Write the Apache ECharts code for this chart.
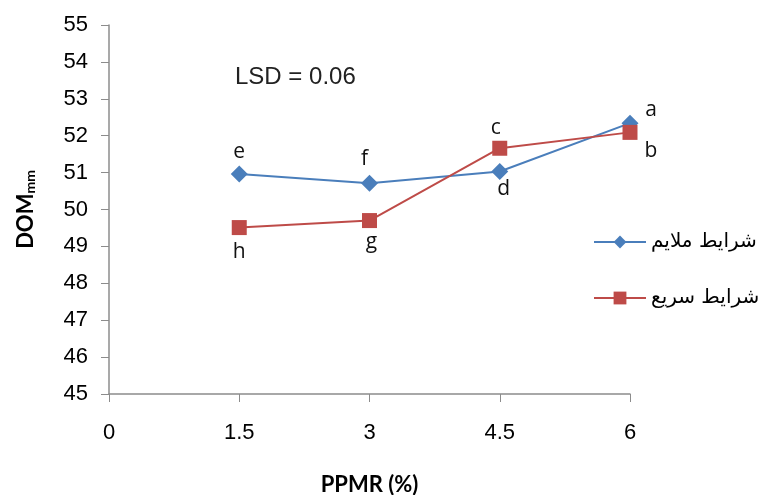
<!DOCTYPE html>
<html>
<head>
<meta charset="utf-8">
<script src="https://cdn.jsdelivr.net/npm/echarts@6/dist/echarts.min.js"></script>
<style>
  html, body { margin: 0; padding: 0; background: #fff; }
  #chart { width: 766px; height: 495px; }
</style>
</head>
<body>
<div id="chart"></div>
<script>
// x values (PPMR %)
const ppmr = [1.5, 3, 4.5, 6];
const xTicks = [0, 1.5, 3, 4.5, 6];
// DOM (mm) for both conditions
const mildValues = [50.96, 50.71, 51.03, 52.34];
const fastValues = [49.51, 49.70, 51.66, 52.09];
// significance letters
const mildLetters = ["e", "f", "d", "a"];
const fastLetters = ["h", "g", "c", "b"];
const mildName = "شرايط ملايم";
const fastName = "شرايط سريع";

// label offsets for each letter (above / below / right of the point)
const mildPos = [[0, -22], [-5, -24], [4, 18], [21, -13]];
const fastPos = [[0, 24], [2, 21], [-4, -20], [21, 19]];

function points(vals, letters, pos) {
  return vals.map((v, i) => ({
    value: [ppmr[i], v],
    label: { formatter: letters[i], offset: pos[i] }
  }));
}

const chart = echarts.init(document.getElementById("chart"));
const axisCol = "#8c8c8c";
const option = {
  animation: false,
  textStyle: { fontFamily: "Liberation Sans, Arial, sans-serif" },
  grid: { left: 109, right: 136, top: 25, bottom: 101, outerBoundsMode: "none", containLabel: false },
  legend: {
    orient: "vertical",
    left: 593,
    top: 232,
    padding: 0,
    itemWidth: 52,
    itemHeight: 16,
    itemGap: 36,
    textStyle: { fontFamily: "DejaVu Sans", fontSize: 20, color: "#000" },
    data: [mildName, fastName]
  },
  graphic: [{
    type: "text",
    left: 235,
    top: 65,
    style: { text: "LSD = 0.06", font: "24px Liberation Sans, Arial", fill: "#222" }
  }],
  xAxis: {
    type: "value",
    min: 0,
    max: 6,
    interval: 1.5,
    name: "PPMR (%)",
    nameLocation: "middle",
    nameGap: 80,
    nameTextStyle: { fontFamily: "Lato, Open Sans", fontWeight: "bold", fontSize: 22, color: "#000" },
    axisLine: { lineStyle: { color: axisCol, width: 1.5 } },
    axisTick: { show: true, length: 8, lineStyle: { color: axisCol } },
    axisLabel: { fontSize: 22, color: "#000", margin: 28,
      formatter: v => xTicks.indexOf(v) >= 0 ? String(v) : "" },
    splitLine: { show: false }
  },
  yAxis: {
    type: "value",
    min: 45,
    max: 55,
    interval: 1,
    name: "{a|DOM}{b|mm}",
    nameLocation: "middle",
    nameGap: 72,
    nameTextStyle: {
      rich: {
        a: { fontFamily: "Lato, Open Sans", fontWeight: "bold", fontSize: 22, color: "#000" },
        b: { fontFamily: "Lato, Open Sans", fontWeight: "bold", fontSize: 14, color: "#000", verticalAlign: "bottom", padding: [9, 0, 0, 0] }
      }
    },
    axisLine: { show: true, lineStyle: { color: axisCol, width: 1.5 } },
    axisTick: { show: true, length: 8, lineStyle: { color: axisCol } },
    axisLabel: { fontSize: 22, color: "#000", margin: 21 },
    splitLine: { show: false }
  },
  series: [
    {
      name: mildName,
      type: "line",
      data: points(mildValues, mildLetters, mildPos),
      symbol: "diamond",
      symbolSize: 17,
      itemStyle: { color: "#4a7ebb" },
      lineStyle: { color: "#4a7ebb", width: 2 },
      label: { show: true, position: "inside", fontSize: 21, color: "#111", fontFamily: "Open Sans, DejaVu Sans" }
    },
    {
      name: fastName,
      type: "line",
      data: points(fastValues, fastLetters, fastPos),
      symbol: "rect",
      symbolSize: 15,
      itemStyle: { color: "#be4b48" },
      lineStyle: { color: "#be4b48", width: 2 },
      label: { show: true, position: "inside", fontSize: 21, color: "#111", fontFamily: "Open Sans, DejaVu Sans" }
    }
  ]
};
chart.setOption(option);
</script>
</body>
</html>
